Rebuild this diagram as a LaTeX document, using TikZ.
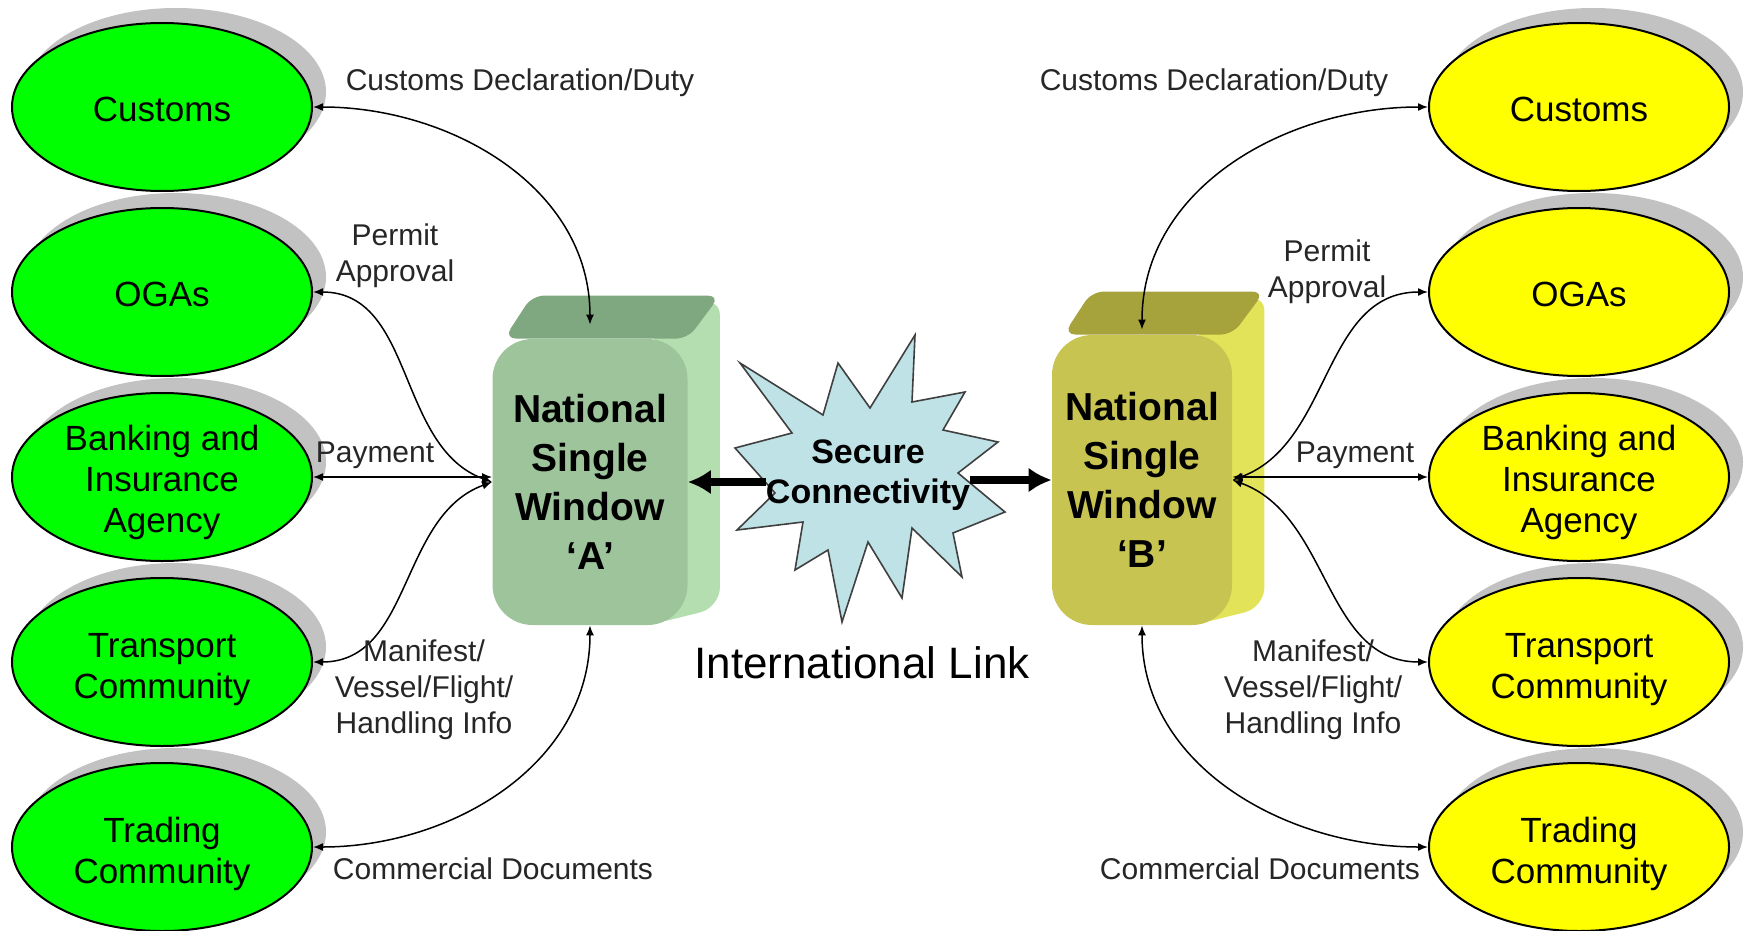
\documentclass[tikz,border=0pt]{standalone}
\usepackage{fontspec}
\setmainfont{Liberation Sans}
\usetikzlibrary{arrows.meta,shapes.geometric,shadows,backgrounds}
\definecolor{sidea}{HTML}{00FF00}
\definecolor{sideb}{HTML}{FFFF00}
\definecolor{shadowgray}{HTML}{C2C2C2}
\definecolor{nswafront}{HTML}{9DC49B}
\definecolor{nswatop}{HTML}{80A880}
\definecolor{nswaside}{HTML}{B4DEB0}
\definecolor{nswbfront}{HTML}{C8C452}
\definecolor{nswbtop}{HTML}{A6A23C}
\definecolor{nswbside}{HTML}{E3E35A}
\definecolor{burstfill}{HTML}{BEE2E6}
\tikzset{
  party/.style={ellipse, draw=black, line width=1pt, minimum width=150pt, minimum height=84pt,
    inner ysep=-4pt, align=center, font=\fontsize{17.5}{20.5}\selectfont,
    drop shadow={shadow xshift=7pt, shadow yshift=7.5pt, fill=shadowgray, opacity=1}},
  oneline/.style={text height=15pt},
  twolines/.style={text height=40pt},
  threelines/.style={text height=59pt},
  window/.style={rounded corners=20pt, align=center,
    font=\bfseries\fontsize{19.5}{24.5}\selectfont},
  flow/.style={line width=0.75pt, {Latex[length=5pt,width=4pt]}-{Latex[length=5pt,width=4pt]}},
  linkarrow/.style={line width=4pt, -{Latex[length=11.5pt,width=12.5pt]}},
  lbl/.style={font=\fontsize{15}{18}\selectfont, align=center, text=black!85},
  burst/.style={draw=black!75, line width=0.8pt, fill=burstfill, line join=miter}
}
\begin{document}
\begin{tikzpicture}[x=0.5pt,y=0.5pt]
        \tikzstyle{every node}+=[inner sep=0pt]
        \useasboundingbox (0,0) rectangle (1750,-931);
        \node [party, oneline, fill=sidea] (lcust) at (162,-107) {Customs};
        \node [party, oneline, fill=sidea] (logas) at (162,-292) {OGAs};
        \node [party, threelines, fill=sidea] (lbank) at (162,-477) {Banking and\\Insurance\\Agency};
        \node [party, twolines, fill=sidea] (ltrans) at (162,-662) {Transport\\Community};
        \node [party, twolines, fill=sidea] (ltrade) at (162,-847) {Trading\\Community};
        \node [party, oneline, fill=sideb] (rcust) at (1579,-107) {Customs};
        \node [party, oneline, fill=sideb] (rogas) at (1579,-292) {OGAs};
        \node [party, threelines, fill=sideb] (rbank) at (1579,-477) {Banking and\\Insurance\\Agency};
        \node [party, twolines, fill=sideb] (rtrans) at (1579,-662) {Transport\\Community};
        \node [party, twolines, fill=sideb] (rtrade) at (1579,-847) {Trading\\Community};
        \node [window, fill=nswafront, minimum width=97.5pt, minimum height=143pt] (nswa) at (590,-482) {National\\Single\\Window\\‘A’};
        \node [window, fill=nswbfront, minimum width=90pt, minimum height=145pt] (nswb) at (1142,-480) {National\\Single\\Window\\‘B’};
        \begin{scope}[on background layer]
        \fill [nswaside, rounded corners=10pt] ([shift={(-40,0)}]nswa.north east) -- ([shift={(32,43)}]nswa.north east) -- ([shift={(32,18)}]nswa.south east) -- ([shift={(-40,0)}]nswa.south east) -- cycle;
        \fill [nswatop, rounded corners=6pt] ([shift={(12,0)}]nswa.north west) -- ([shift={(40,43)}]nswa.north west) -- ([shift={(32,43)}]nswa.north east) -- (nswa.north east) -- cycle;
        \fill [nswbside, rounded corners=10pt] ([shift={(-40,0)}]nswb.north east) -- ([shift={(32,43)}]nswb.north east) -- ([shift={(32,18)}]nswb.south east) -- ([shift={(-40,0)}]nswb.south east) -- cycle;
        \fill [nswbtop, rounded corners=6pt] ([shift={(12,0)}]nswb.north west) -- ([shift={(40,43)}]nswb.north west) -- ([shift={(32,43)}]nswb.north east) -- (nswb.north east) -- cycle;
        \end{scope}
        \draw [burst] (915,-335) -- (912,-402) -- (965,-392) -- (943,-430) -- (998,-442) -- (958,-473) -- (1005,-512) -- (953,-533) -- (962,-577) -- (912,-528) -- (902,-598) -- (868,-542) -- (842,-622) -- (828,-550) -- (795,-570) -- (803,-522) -- (737,-530) -- (775,-493) -- (735,-448) -- (792,-433) -- (740,-363) -- (823,-415) -- (838,-363) -- (870,-408) -- cycle;
        \node [font=\bfseries\fontsize{17}{20}\selectfont, align=center] (link) at (868,-475) {Secure\\Connectivity};
        \draw [linkarrow] (link.west |- nswa.east) -- (nswa.east);
        \draw [linkarrow] (link.east |- nswb.west) -- (nswb.west);
        \node [font=\fontsize{22}{26}\selectfont] (intl) at (862,-663) {International Link};
        \draw [flow] (lcust.east) to [out=0, in=90] ([shift={(0,14)}]nswa.north);
        \draw [flow] (logas.east) to [out=0, in=160] (nswa.west);
        \draw [flow] (lbank.east) -- (lbank.east -| nswa.west);
        \draw [flow] (ltrans.east) to [out=0, in=200] (nswa.west);
        \draw [flow] (ltrade.east) to [out=0, in=-90] (nswa.south);
        \draw [flow] (rcust.west) to [out=180, in=90] ([shift={(0,5)}]nswb.north);
        \draw [flow] (rogas.west) to [out=180, in=20] (nswb.east);
        \draw [flow] (rbank.west) -- (rbank.west -| nswb.east);
        \draw [flow] (rtrans.west) to [out=180, in=-20] (nswb.east);
        \draw [flow] (rtrade.west) to [out=180, in=-90] (nswb.south);
        \node [lbl] (lcustlbl) at (520,-83) {Customs Declaration/Duty};
        \node [lbl] (logaslbl) at (395,-256) {Permit\\Approval};
        \node [lbl] (lbanklbl) at (375,-455) {Payment};
        \node [lbl] (ltranslbl) at (424,-690) {Manifest/\\Vessel/Flight/\\Handling Info};
        \node [lbl] (ltradelbl) at (493,-869) {Commercial Documents};
        \node [lbl] (rcustlbl) at (1214,-83) {Customs Declaration/Duty};
        \node [lbl] (rogaslbl) at (1327,-272) {Permit\\Approval};
        \node [lbl] (rbanklbl) at (1355,-455) {Payment};
        \node [lbl] (rtranslbl) at (1313,-690) {Manifest/\\Vessel/Flight/\\Handling Info};
        \node [lbl] (rtradelbl) at (1260,-869) {Commercial Documents};
    \end{tikzpicture}
\end{document}
